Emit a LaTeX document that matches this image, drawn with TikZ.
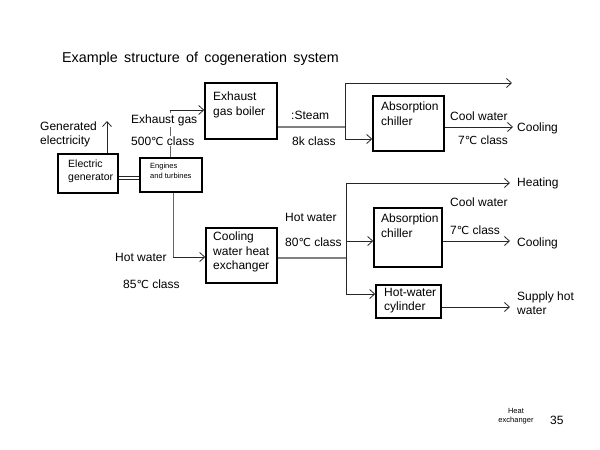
\documentclass[tikz,border=0pt]{standalone}
\usepackage{fontspec}
\setmainfont{Liberation Sans}
\newfontfamily\titlefont[WordSpace=1.6]{Liberation Sans}
\newfontfamily\symfont[Scale=0.92]{DejaVu Sans}
\newcommand{\degC}{{\symfont ℃}}
\usetikzlibrary{arrows.meta}
\begin{document}
\begin{tikzpicture}[x=1pt,y=-1pt,
  box/.style={draw=black,line width=1.5pt,inner sep=0pt},
  lbl/.style={font=\fontsize{12}{14}\selectfont,inner sep=0pt,anchor=west},
  boxtxt/.style={font=\fontsize{12}{14.2}\selectfont,inner sep=0pt,anchor=north west,align=left},
  conn/.style={draw=black!85,line width=0.8pt},
  arr/.style={conn,-{Straight Barb[length=5pt,width=9pt]}},
  feed/.style={draw=black!50,line width=1.4pt}]
\useasboundingbox[fill=white] (0,0) rectangle (600,450);
% title
\node[font=\titlefont\fontsize{14.3}{16}\selectfont,inner sep=0pt,anchor=west] (title) at (62,59) {Example structure of cogeneration system};
% boxes
\node[box,minimum width=60pt,minimum height=39pt] (gen) at (88,173.5) {};
\node[box,minimum width=62pt,minimum height=34pt] (eng) at (171,175) {};
\node[box,minimum width=72pt,minimum height=56pt] (boil) at (241,111) {};
\node[box,minimum width=71pt,minimum height=55pt] (ch1) at (408.5,123.5) {};
\node[box,minimum width=71pt,minimum height=55pt] (cwx) at (241.5,255.5) {};
\node[box,minimum width=68pt,minimum height=59pt] (ch2) at (408,237.5) {};
\node[box,minimum width=65pt,minimum height=33pt] (cyl) at (408.5,301.5) {};
% box texts
\node[font=\fontsize{10.5}{13}\selectfont,inner sep=0pt,anchor=north west,align=left] at (68,160) {Electric\\generator};
\node[font=\fontsize{7.5}{10}\selectfont,inner sep=0pt,anchor=north west,align=left] at (150,163) {Engines\\and turbines};
\node[boxtxt] at (213,92) {Exhaust\\gas boiler};
\node[boxtxt] at (381,102) {Absorption\\chiller};
\node[boxtxt] at (213,232) {Cooling\\water heat\\exchanger};
\node[boxtxt] at (381,214) {Absorption\\chiller};
\node[boxtxt] at (384,288) {Hot-water\\cylinder};
% coordinates
\coordinate (egtop) at (170,110);
\coordinate (elec) at (107,121);
\coordinate (busA) at (345,127);
\coordinate (busAt) at (345,83);
\coordinate (busAb) at (345,139);
\coordinate (outA) at (512,83);
\coordinate (cool1) at (513,127);
\coordinate (hwc) at (173,257);
\coordinate (busB) at (346,258);
\coordinate (busBt) at (346,183);
\coordinate (busBm) at (346,241);
\coordinate (busBb) at (346,294);
\coordinate (heat) at (510,183);
\coordinate (cool2) at (510,241);
\coordinate (sup) at (510,307);
% connectors
\draw[arr] (gen.north -| elec) -- (elec);
\draw[conn] ([yshift=-1.5pt]gen.east |- 0,178) -- ([yshift=-1.5pt]eng.west |- 0,178);
\draw[conn] ([yshift=1.5pt]gen.east |- 0,178) -- ([yshift=1.5pt]eng.west |- 0,178);
\draw[conn,draw=black!60] (eng.north -| egtop) -- (egtop);
\draw[arr] (egtop) -- (egtop -| boil.west);
\draw[feed] (boil.east |- busA) -- (busA);
\draw[conn] (busAt) -- (busAb);
\draw[arr] (busAt) -- (outA);
\draw[arr] (busAb) -- (busAb -| ch1.west);
\draw[arr] (ch1.east |- cool1) -- (cool1);
\draw[conn,draw=black!60] (eng.south -| hwc) -- (hwc);
\draw[arr] (hwc) -- (hwc -| cwx.west);
\draw[feed] (cwx.east |- busB) -- (busB);
\draw[conn] (busBt) -- (busBb);
\draw[arr] (busBt) -- (heat);
\draw[arr] (busBm) -- (busBm -| ch2.west);
\draw[arr] (busBb) -- (busBb -| cyl.west);
\draw[arr] (ch2.east |- cool2) -- (cool2);
\draw[arr] (cyl.east |- sup) -- (sup);
% labels
\node[lbl,align=left,anchor=north west,font=\fontsize{12}{14}\selectfont] at (40,122) {Generated\\electricity};
\node[lbl,fill=white,inner sep=1pt] at (130,120) {Exhaust gas};
\node[lbl,fill=white,inner sep=1pt] at (130,141) {500\degC{} class};
\node[lbl] at (291,115) {:Steam};
\node[lbl] at (292,141) {8k class};
\node[lbl] at (450,116) {Cool water};
\node[lbl] at (458,140) {7\degC{} class};
\node[lbl] at (517,128) {Cooling};
\node[lbl] at (115,257) {Hot water};
\node[lbl] at (123,284) {85\degC{} class};
\node[lbl] at (285,217) {Hot water};
\node[lbl] at (285,242) {80\degC{} class};
\node[lbl] at (517,183) {Heating};
\node[lbl] at (450,202) {Cool water};
\node[lbl] at (450,230) {7\degC{} class};
\node[lbl] at (517,243) {Cooling};
\node[lbl,align=left,anchor=north west] at (517,292) {Supply hot\\water};
\node[font=\fontsize{7.5}{9}\selectfont,inner sep=0pt,align=center] at (516,416) {Heat\\exchanger};
\node[lbl] at (550,420) {35};
\end{tikzpicture}
\end{document}
